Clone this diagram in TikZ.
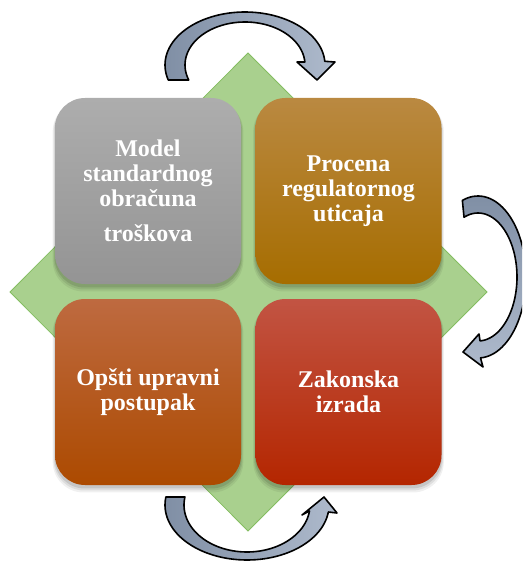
\documentclass[tikz,border=0pt]{standalone}
\usepackage{fontspec}
\setmainfont{Liberation Serif}
\usetikzlibrary{shadows}
\definecolor{dfill}{RGB}{169,208,142}
\definecolor{dline}{RGB}{132,189,96}
\definecolor{adark}{RGB}{128,143,165}
\definecolor{alight}{RGB}{174,186,204}
\definecolor{grayT}{RGB}{173,173,173}
\definecolor{grayB}{RGB}{148,148,148}
\definecolor{goldT}{RGB}{186,137,65}
\definecolor{goldB}{RGB}{166,109,0}
\definecolor{orT}{RGB}{190,106,64}
\definecolor{orB}{RGB}{172,74,0}
\definecolor{redT}{RGB}{194,84,67}
\definecolor{redB}{RGB}{180,38,0}
\tikzset{
  box/.style={minimum width=186pt, minimum height=186pt, rounded corners=30pt,
    inner sep=0pt, text=white, align=center,
    font=\fontsize{24}{25}\selectfont\bfseries,
    general shadow={shadow xshift=0pt, shadow yshift=-5pt, shadow scale=1.025, opacity=0.06, fill=black},
    general shadow={shadow xshift=0pt, shadow yshift=-4pt, shadow scale=1.015, opacity=0.08, fill=black},
    general shadow={shadow xshift=0pt, shadow yshift=-3pt, shadow scale=1.005, opacity=0.1, fill=black}},
  diamondstyle/.style={fill=dfill, draw=dline, line width=0.8pt},
  curvedarrow/.style={draw=black, line width=1.6pt, line join=round}
}
\begin{document}
\begin{tikzpicture}[x=1pt,y=-1pt]
\useasboundingbox (0,0) rectangle (522,561);
\begin{scope}
\clip (0,0) rectangle (522,561);
% diamond
\coordinate (dt) at (248,53);
\coordinate (dr) at (487,292);
\coordinate (db) at (248,531);
\coordinate (dl) at (10,292);
\draw[diamondstyle] (dt) -- (dr) -- (db) -- (dl) -- cycle;
% top arrow
\draw[curvedarrow, left color=adark, right color=alight]
  plot[domain=163.6:356, samples=60, variable=\t] ({245+80*cos(\t)}, {65+53*sin(\t)})
  -- (335,62) -- (317,80) -- (297,62)
  -- plot[domain=356:159.6, samples=60, variable=\t] ({245+60*cos(\t)}, {65+43*sin(\t)})
  -- cycle;
% right arrow
\draw[curvedarrow, top color=adark, bottom color=alight]
  plot[domain=251:447, samples=60, variable=\t] ({478+48*cos(\t)}, {277+81*sin(\t)})
  -- (483,367) -- (463,352) -- (479,334)
  -- plot[domain=447:249, samples=60, variable=\t] ({478+39*cos(\t)}, {277+64*sin(\t)})
  -- cycle;
% bottom arrow
\draw[curvedarrow, left color=adark, right color=alight]
  plot[domain=188.4:7.3, samples=60, variable=\t] ({247+82*cos(\t)}, {505+55*sin(\t)})
  -- (337,513) -- (324,497) -- (302,515)
  -- plot[domain=7.3:189.8, samples=60, variable=\t] ({247+63*cos(\t)}, {505+47*sin(\t)})
  -- cycle;
\end{scope}
% boxes
\node[box, top color=grayT, bottom color=grayB] (model) at (148,191)
  {Model\\standardnog\\obračuna\\[10pt]troškova};
\node[box, top color=goldT, bottom color=goldB] (procena) at (348.5,191)
  {Procena\\regulatornog\\uticaja};
\node[box, top color=orT, bottom color=orB] (opsti) at (148,392)
  {Opšti upravni\\postupak};
\node[box, top color=redT, bottom color=redB] (zakon) at (348.5,392)
  {Zakonska\\izrada};
\end{tikzpicture}
\end{document}
